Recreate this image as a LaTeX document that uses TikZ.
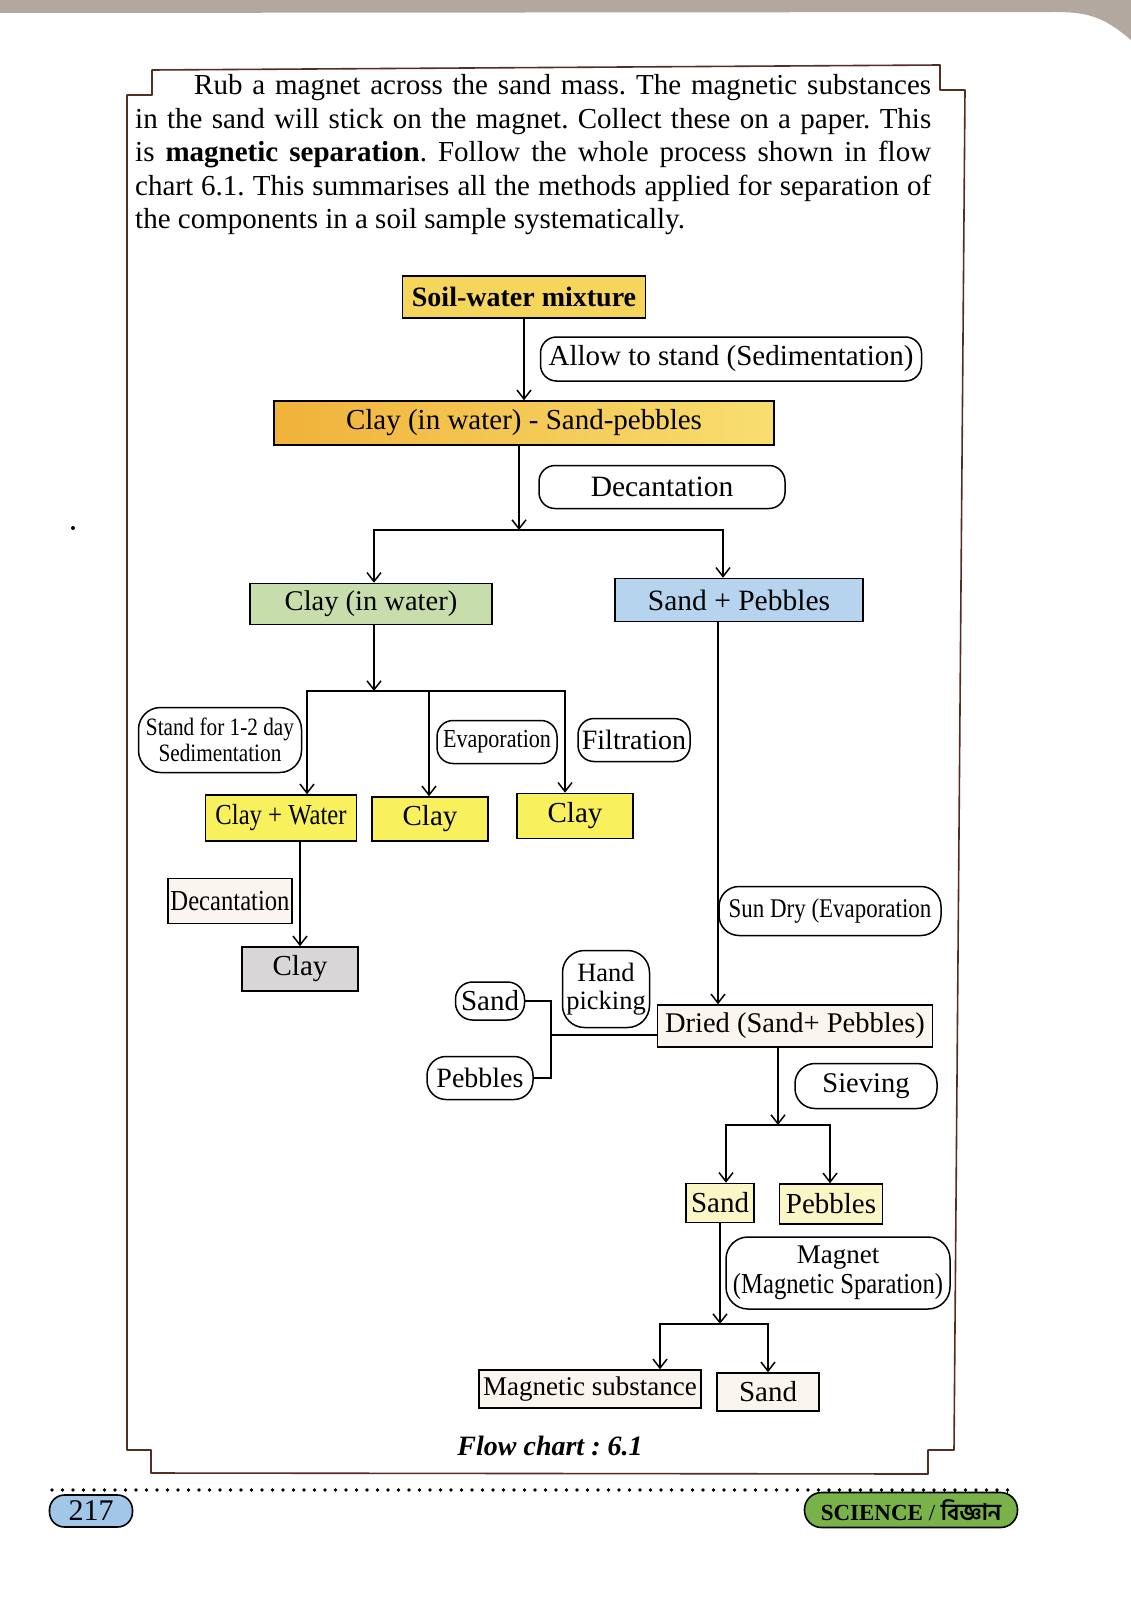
\documentclass[tikz,border=0pt]{standalone}
\usepackage{fontspec}
\setmainfont{Liberation Serif}
\newfontfamily\narrowfont{Liberation Serif}[FakeStretch=0.85]
\newfontfamily\bengalifont[Script=Bengali]{Hind Siliguri}
\usepackage{tikz}
\usetikzlibrary{arrows.meta}
\definecolor{PageGrey}{RGB}{178, 168, 160}
\definecolor{Frame}{RGB}{85, 45, 35}
\definecolor{Gold}{RGB}{245, 213, 92}
\definecolor{MixL}{RGB}{240, 178, 58}
\definecolor{MixR}{RGB}{248, 222, 112}
\definecolor{Green}{RGB}{200, 221, 172}
\definecolor{Blue}{RGB}{182, 212, 238}
\definecolor{Lemon}{RGB}{248, 240, 92}
\definecolor{Ash}{RGB}{216, 214, 214}
\definecolor{Paper}{RGB}{251, 245, 240}
\definecolor{Cream}{RGB}{250, 246, 198}
\definecolor{PageBlue}{RGB}{162, 198, 232}
\definecolor{Subject}{RGB}{122, 178, 74}
\newcommand\setfs[2]{\fontsize{#1}{#2}\selectfont}
\frenchspacing

\begin{document}
\begin{tikzpicture}[x=1pt, y=-1pt,
    box/.style={draw, line width=1.5pt, inner sep=0pt, align=center},
    proc/.style={draw, line width=1.5pt, rounded corners=16pt, fill=white, inner sep=0pt, align=center},
    flow/.style={line width=1.5pt, -{Straight Barb[length=9pt, width=14pt, line width=1.5pt]}},
    link/.style={line width=1.5pt}]
    %% Background
    \useasboundingbox (0,0) rectangle (1131,1600);
    \fill[white] (0,0) rectangle (1131,1600);
    \fill[PageGrey] (0,0) -- (1131,0) -- (1131,40) .. controls (1105,18) and (1090,12) .. (1055,12) -- (0,13) -- cycle;
    \fill (73,528) circle (2pt);

    %% Frame
    \draw[Frame, line width=1.6pt, line join=round]
    (127,1450) -- (127,95) -- (152,95) -- (152,70) -- (940,65) -- (940,90) -- (965,90)
    -- (954,1450) -- (928,1450) -- (928,1474) -- (151,1473) -- (151,1450) -- cycle;

    %% Text
    \node (para) [anchor=north west, inner sep=0pt, text width=796pt, align=justify,
        font=\setfs{29}{33.5}] at (135,71) {\strut\hspace*{59pt}Rub a magnet across the sand mass. The magnetic substances\linebreak
        in the sand will stick on the magnet. Collect these on a paper. This\linebreak
        is \textbf{magnetic separation}. Follow the whole process shown in flow\linebreak
        chart 6.1. This summarises all the methods applied for separation of\linebreak
        the components in a soil sample systematically.};

    %% Top of the chart
    \node (soil) [box, fill=Gold, minimum width=243, minimum height=42, font=\bfseries\setfs{28}{30}] at (524,297) {Soil-water mixture};
    \node (allow) [proc, minimum width=381, minimum height=44, font=\setfs{29}{30}] at (731,359) {Allow to stand (Sedimentation)};
    \node (mix) [box, left color=MixL, right color=MixR, minimum width=500, minimum height=44, font=\setfs{29}{30}] at (524,423) {Clay (in water) - Sand-pebbles};
    \node (decantA) [proc, minimum width=246, minimum height=43, font=\setfs{29.5}{30}] at (662,487) {Decantation};

    \draw[flow] (soil.south) -- (mix.north);

    \coordinate (s1) at (519,530);
    \coordinate (s1l) at (374,530);
    \coordinate (s1r) at (723,530);
    \node (claywater) [box, fill=Green, minimum width=242, minimum height=41, font=\setfs{28.5}{30}] at (371,604) {Clay (in water)};
    \node (sandpeb) [box, fill=Blue, minimum width=248, minimum height=43, font=\setfs{29.5}{30}] at (739,600) {Sand + Pebbles};

    \draw[flow] (mix.south -| s1) -- (s1);
    \draw[flow] (s1) -| (s1l |- claywater.north);
    \draw[flow] (s1) -| (s1r |- sandpeb.north);

    %% Clay branch
    \coordinate (s2) at (374,691);
    \coordinate (s2l) at (307,691);
    \coordinate (s2m) at (429,691);
    \coordinate (s2r) at (565,691);
    \node (stand) [proc, rounded corners=22pt, minimum width=163, minimum height=65, font=\narrowfont\setfs{25}{25.5}] at (220,740) {Stand for 1-2 day\\Sedimentation};
    \node (evap) [proc, minimum width=120, minimum height=43, font=\narrowfont\setfs{26}{28}] at (497,742) {Evaporation};
    \node (filt) [proc, minimum width=112, minimum height=43, font=\setfs{28}{30}] at (634,740) {Filtration};
    \node (cw) [box, fill=Lemon, minimum width=151, minimum height=46, font=\narrowfont\setfs{29}{30}] at (281,818) {Clay + Water};
    \node (clayA) [box, fill=Lemon, minimum width=116, minimum height=44, font=\setfs{29}{30}] at (430,819) {Clay};
    \node (clayB) [box, fill=Lemon, minimum width=116, minimum height=45, font=\setfs{29}{30}] at (575,816) {Clay};

    \draw[flow] (claywater.south -| s2) -- (s2);
    \draw[flow] (s2) -| (s2l |- cw.north);
    \draw[flow] (s2m) -- (s2m |- clayA.north);
    \draw[flow] (s2) -| (s2r |- clayB.north);
    \draw[link] (s2l) -- (s2r);

    \node (decantB) [box, fill=Paper, minimum width=124, minimum height=45, font=\narrowfont\setfs{29}{30}] at (230,901) {Decantation};
    \node (claygrey) [box, fill=Ash, minimum width=116, minimum height=44, font=\setfs{29}{30}] at (300,969) {Clay};

    \draw[flow] (cw.south -| claygrey) -- (claygrey.north);

    %% Sand + Pebbles branch
    \coordinate (dropS) at (718,0);
    \node (sundry) [proc, rounded corners=20pt, minimum width=222, minimum height=49, font=\narrowfont\setfs{27}{28}] at (830,911) {Sun Dry (Evaporation};
    \node (dried) [box, fill=Paper, minimum width=275, minimum height=42, font=\setfs{28.5}{30}] at (795,1026) {Dried (Sand+ Pebbles)};
    \node (hand) [proc, rounded corners=22pt, minimum width=87, minimum height=77, font=\setfs{26.5}{27.5}] at (606,989) {Hand\\picking};
    \node (sandL) [proc, rounded corners=17pt, minimum width=69, minimum height=38, font=\setfs{29}{30}] at (490,1001) {Sand};
    \node (pebL) [proc, rounded corners=19pt, minimum width=106, minimum height=43, font=\setfs{28}{30}] at (480,1078) {Pebbles};

    \draw[flow] (sandpeb.south -| dropS) -- (dried.north -| dropS);

    \coordinate (hp) at (551,1035);
    \draw[link] (sandL.east) -| (hp);
    \draw[link] (pebL.east) -| (hp);
    \draw[link] (hp) -- (hp -| dried.west);

    \coordinate (s3) at (778,1125);
    \coordinate (s3l) at (726,1125);
    \coordinate (s3r) at (830,1125);
    \node (sieve) [proc, rounded corners=20pt, minimum width=142, minimum height=45, font=\setfs{28.5}{30}] at (866,1086) {Sieving};
    \node (sandM) [box, fill=Cream, minimum width=68, minimum height=39, font=\setfs{29}{30}] at (720,1203) {Sand};
    \node (pebM) [box, fill=Cream, minimum width=103, minimum height=40, font=\setfs{29}{30}] at (831,1204) {Pebbles};

    \draw[flow] (dried.south -| s3) -- (s3);
    \draw[flow] (s3) -| (s3l |- sandM.north);
    \draw[flow] (s3) -| (s3r |- pebM.north);

    \coordinate (s4) at (720,1324);
    \coordinate (s4l) at (660,1324);
    \coordinate (s4r) at (768,1324);
    \node (magnet) [proc, rounded corners=22pt, minimum width=224, minimum height=72] at (838,1273)
        {{\setfs{27}{30}Magnet}\\[3pt]{\narrowfont\setfs{29}{30}(Magnetic Sparation)}};
    \node (magsub) [box, fill=Paper, minimum width=222, minimum height=38, font=\setfs{27}{30}] at (590,1389) {Magnetic substance};
    \node (sandB) [box, fill=Paper, minimum width=102, minimum height=38, font=\setfs{29}{30}] at (768,1392) {Sand};

    \draw[flow] (sandM.south -| s4) -- (s4);
    \draw[flow] (s4) -| (s4l |- magsub.north);
    \draw[flow] (s4) -| (s4r |- sandB.north);

    \node (caption) [font=\bfseries\itshape\setfs{28}{30}] at (550,1446) {Flow chart : 6.1};

    %% Footer
    \foreach \i in {0,...,91}
        \fill (52+\i*10.5,1490) circle (1.8pt);
    \foreach \i in {74,...,91}
        \draw[line width=1.2pt] (52+\i*10.5,1490) -- (52+\i*10.5,1497);
    \node (pageno) [draw, line width=1.6pt, rounded corners=15pt, fill=PageBlue, minimum width=83, minimum height=32, inner sep=0pt, font=\setfs{30}{30}] at (91,1511) {217};
    \node (subject) [draw, line width=1.6pt, rounded corners=17pt, fill=Subject, minimum width=213, minimum height=35, inner sep=0pt, font=\setfs{23}{24}] at (911,1510)
        {\textbf{SCIENCE} / {\bengalifont\bfseries বিজ্ঞান}};
\end{tikzpicture}
\end{document}
